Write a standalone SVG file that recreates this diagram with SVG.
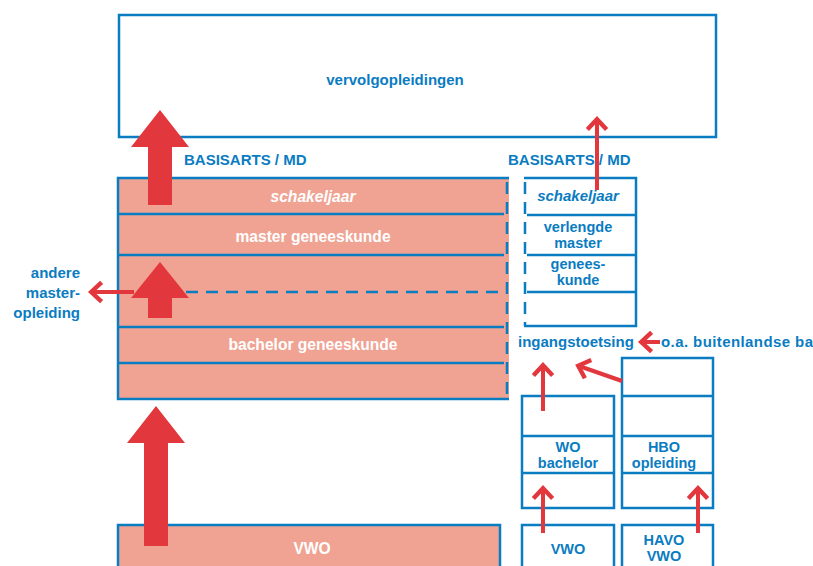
<svg xmlns="http://www.w3.org/2000/svg" width="813" height="566" viewBox="0 0 813 566">
<style>
text{font-family:"Liberation Sans","Noto Sans",Arial,sans-serif;font-weight:bold;}
.b{fill:#0a7cc2;font-size:15px;}
.s{font-size:14.5px;}
.w{fill:#ffffff;font-size:15.6px;}
.box{fill:#ffffff;stroke:#0a7cc2;stroke-width:2.5;}
.pink{fill:#f0a393;}
.ln{stroke:#0a7cc2;stroke-width:2.5;fill:none;}
.dash{stroke:#0a7cc2;stroke-width:2.5;fill:none;stroke-dasharray:12 8;}
.big{fill:#e3373e;}
.thin{stroke:#e3373e;stroke-width:4;fill:none;marker-end:url(#ah);}
</style>
<defs>
<marker id="ah" markerWidth="6" markerHeight="6" refX="3.6" refY="3" orient="auto" markerUnits="strokeWidth">
<path d="M1.2,0.6 L3.8,3 L1.2,5.4" fill="none" stroke="#e3373e" stroke-width="1.1"/>
</marker>
</defs>

<g id="vervolgopleidingen">
<rect class="box" x="119" y="15" width="597" height="122"/>
<text class="b" x="395" y="85" text-anchor="middle" font-size="16.5">vervolgopleidingen</text>
</g>

<g id="label-basisarts-left"><text class="b" x="184" y="165">BASISARTS / MD</text></g>
<g id="label-basisarts-right"><text class="b" x="508" y="165">BASISARTS / MD</text></g>

<g id="geneeskunde-block">
<rect class="pink" x="118" y="178" width="391" height="221"/>
<path class="ln" d="M509,178 H118 V399 H509"/>
<path class="ln" d="M118,214 H504 M118,255 H504 M118,327 H504 M118,363 H504"/>
<path class="dash" d="M507,182 V399"/>
<path class="dash" d="M186,292 H502"/>
<text class="w" x="313" y="202" text-anchor="middle" font-style="italic">schakeljaar</text>
<text class="w" x="313" y="242" text-anchor="middle">master geneeskunde</text>
<text class="w" x="313" y="350" text-anchor="middle">bachelor geneeskunde</text>
</g>

<g id="andere-master">
<text class="b" text-anchor="end" font-size="15.5"><tspan x="80" y="278">andere</tspan><tspan x="80" y="298">master-</tspan><tspan x="80" y="318">opleiding</tspan></text>
</g>

<g id="right-column">
<path class="ln" d="M524,178 H636 V326 H524"/>
<path class="ln" d="M527,215 H636 M527,255 H636 M527,292 H636"/>
<path class="dash" d="M525,182 V326"/>
<text class="b" x="578" y="201" text-anchor="middle" font-style="italic">schakeljaar</text>
<text class="b s" x="578" y="232" text-anchor="middle">verlengde</text>
<text class="b s" x="578" y="248" text-anchor="middle">master</text>
<text class="b s" x="578" y="269" text-anchor="middle">genees-</text>
<text class="b s" x="578" y="285" text-anchor="middle">kunde</text>
</g>

<g id="ingangstoetsing"><text class="b" x="518" y="347">ingangstoetsing</text></g>
<g id="buitenlandse"><text class="b" x="661" y="347" textLength="152" lengthAdjust="spacing">o.a. buitenlandse ba</text></g>

<g id="wo-bachelor">
<rect class="box" x="522" y="396" width="92" height="112"/>
<path class="ln" d="M522,436 H614 M522,473 H614"/>
<text class="b s" x="568" y="452" text-anchor="middle">WO</text>
<text class="b s" x="568" y="468" text-anchor="middle">bachelor</text>
</g>

<g id="hbo-opleiding">
<rect class="box" x="622" y="358" width="91" height="150"/>
<path class="ln" d="M622,396 H713 M622,436 H713 M622,473 H713"/>
<text class="b s" x="664" y="452" text-anchor="middle">HBO</text>
<text class="b s" x="664" y="468" text-anchor="middle">opleiding</text>
</g>

<g id="vwo-left">
<rect class="pink" x="118" y="525" width="382" height="45" stroke="#0a7cc2" stroke-width="2.5"/>
<text class="w" x="312" y="554" text-anchor="middle">VWO</text>
</g>

<g id="vwo-right">
<rect class="box" x="522" y="525" width="92" height="45"/>
<text class="b s" x="568" y="554" text-anchor="middle">VWO</text>
</g>

<g id="havo-vwo">
<rect class="box" x="622" y="525" width="91" height="45"/>
<text class="b s" x="664" y="545" text-anchor="middle">HAVO</text>
<text class="b s" x="664" y="561" text-anchor="middle">VWO</text>
</g>

<g id="connectors">
<polygon class="big" points="160,110 189,147 172,147 172,205 148,205 148,147 131,147"/>
<polygon class="big" points="160,262 189,298 172,298 172,318 148,318 148,298 131,298"/>
<polygon class="big" points="156,406 185,443 168,443 168,546 144,546 144,443 127,443"/>
<line class="thin" x1="134" y1="292" x2="92" y2="292"/>
<line class="thin" x1="597" y1="190" x2="597" y2="120"/>
<line class="thin" x1="660" y1="342" x2="642" y2="342"/>
<line class="thin" x1="543" y1="411" x2="543" y2="366"/>
<line class="thin" x1="622" y1="381" x2="579" y2="366"/>
<line class="thin" x1="543" y1="533" x2="543" y2="489"/>
<line class="thin" x1="698" y1="533" x2="698" y2="489"/>
</g>
</svg>
